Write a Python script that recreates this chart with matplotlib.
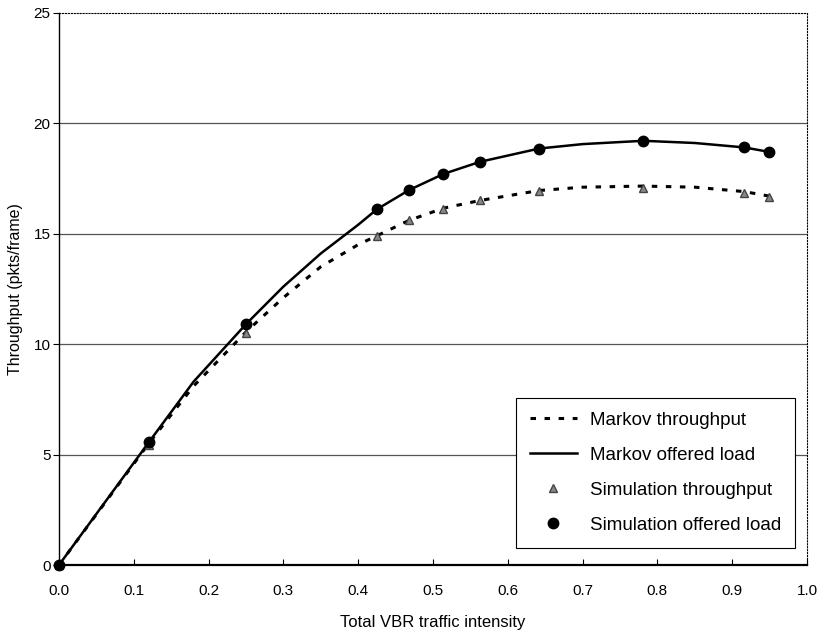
import matplotlib
matplotlib.use("Agg")
import matplotlib.pyplot as plt

# simulation points
sim_x = [0.0, 0.12, 0.25, 0.425, 0.468, 0.514, 0.563, 0.642, 0.781, 0.916, 0.949]
sim_offered = [0.0, 5.55, 10.9, 16.1, 16.97, 17.7, 18.25, 18.85, 19.2, 18.9, 18.7]
sim_throughput = [0.0, 5.45, 10.5, 14.9, 15.6, 16.1, 16.5, 16.95, 17.05, 16.85, 16.65]

# Markov model curves
markov_x = [0.0, 0.12, 0.18, 0.25, 0.3, 0.35, 0.4, 0.425, 0.468, 0.514,
            0.563, 0.642, 0.7, 0.781, 0.85, 0.916, 0.949]
markov_offered = [0.0, 5.55, 8.3, 10.9, 12.6, 14.1, 15.4, 16.1, 16.97, 17.7,
                  18.25, 18.85, 19.05, 19.2, 19.1, 18.9, 18.7]
markov_throughput = [0.0, 5.5, 8.1, 10.55, 12.1, 13.5, 14.5, 14.9, 15.6, 16.15,
                     16.5, 16.95, 17.1, 17.15, 17.1, 16.9, 16.7]

x_ticks = [0.0, 0.1, 0.2, 0.3, 0.4, 0.5, 0.6, 0.7, 0.8, 0.9, 1.0]
y_ticks = [0, 5, 10, 15, 20, 25]

plt.rcParams['font.family'] = ['Liberation Sans', 'DejaVu Sans']

fig = plt.figure(figsize=(8.18, 6.32), dpi=100)
ax = fig.add_axes([0.0721, 0.106, 0.9145, 0.874])

for y in y_ticks[1:-1]:
    ax.axhline(y, color="#555555", linewidth=0.9, zorder=1)

l_thr, = ax.plot(markov_x, markov_throughput, color="black", linewidth=2.2,
                 linestyle=(0, (1.8, 2.8)), zorder=2)
l_off, = ax.plot(markov_x, markov_offered, color="black", linewidth=1.8, zorder=3)
m_thr, = ax.plot(sim_x, sim_throughput, linestyle="none", marker="^",
                 markersize=6, color="#888888", markeredgecolor="#444444",
                 zorder=4, clip_on=False)
m_off, = ax.plot(sim_x, sim_offered, linestyle="none", marker="o",
                 markersize=7.5, color="black", zorder=5, clip_on=False)

ax.set_xlim(0, 1.0)
ax.set_ylim(0, 25)
ax.set_xticks(x_ticks)
ax.set_xticklabels([f"{v:.1f}" for v in x_ticks], fontsize=11)
ax.set_yticks(y_ticks)
ax.set_yticklabels([str(v) for v in y_ticks], fontsize=11)
ax.tick_params(axis="x", direction="in", length=4, pad=14)
ax.tick_params(axis="y", direction="out", length=4, pad=2)

ax.spines["left"].set_linewidth(1.0)
ax.spines["bottom"].set_linewidth(1.6)
ax.spines["top"].set_linestyle(":")
ax.spines["top"].set_linewidth(0.8)
ax.spines["right"].set_linestyle(":")
ax.spines["right"].set_linewidth(0.8)

ax.set_xlabel("Total VBR traffic intensity", fontsize=12, labelpad=12)
ax.set_ylabel("Throughput (pkts/frame)", fontsize=11.5, labelpad=8)

leg = ax.legend([l_thr, l_off, m_thr, m_off],
                ["Markov throughput", "Markov offered load",
                 "Simulation throughput", "Simulation offered load"],
                loc="lower right", bbox_to_anchor=(0.984, 0.031),
                borderaxespad=0, fontsize=13.5, labelspacing=0.95,
                handlelength=2.5, handletextpad=0.7, borderpad=0.75,
                fancybox=False, framealpha=1, edgecolor="black")
leg.get_frame().set_linewidth(0.8)

fig.savefig("out.png", dpi=100)
